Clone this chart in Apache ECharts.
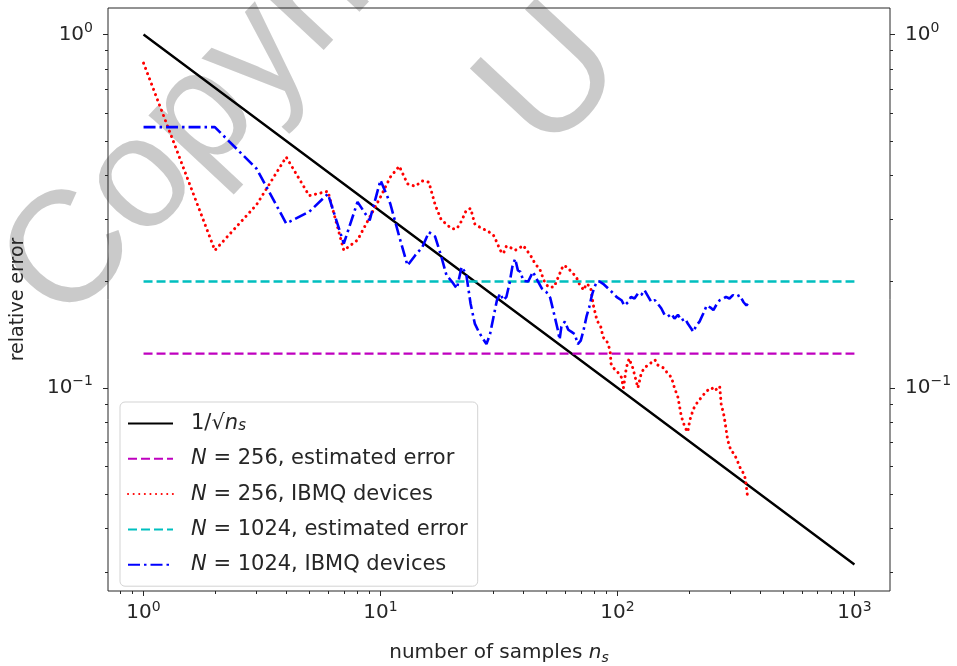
<!DOCTYPE html>
<html><head><meta charset="utf-8">
<script src="https://cdn.jsdelivr.net/npm/echarts@6/dist/echarts.min.js"></script>
<style>html,body{margin:0;padding:0;background:#fff}#c{width:957px;height:666px}</style>
</head><body><div id="c"></div>
<script>
// ---- data ----
const refN = [1, 10, 100, 1000];
const refErr = [1, 0.316, 0.1, 0.0316];
const estN = [1, 1000];
const est256 = [0.125, 0.125];
const est1024 = [0.2, 0.2];
const nRed = [1,2,3,4,5,6,7,8,9,10,11,12,13,14,15,16,17,18,19,20,21,22,23,24,25,26,27,28,29,30,31,32,33,34,35,36,37,38,39,40,42,43,45,47,49,51,54,57,59,61,64,67,69,72,74,77,79,82,85,87,90,93,94,96,100,104,106,109,112,116,122,126,130,137,144,148,156,161,169,174,180,186,193,198,202,209,215,226,238,250,257,270,274,282,292,301,311,321,331,342,347,353];
const errRed = [0.83,0.245,0.33,0.45,0.35,0.36,0.245,0.262,0.304,0.347,0.395,0.424,0.378,0.372,0.385,0.382,0.33,0.3,0.29,0.282,0.282,0.297,0.318,0.322,0.291,0.286,0.282,0.279,0.275,0.27,0.258,0.245,0.24,0.252,0.25,0.248,0.245,0.248,0.25,0.253,0.242,0.237,0.224,0.217,0.201,0.193,0.193,0.21,0.222,0.22,0.213,0.206,0.197,0.189,0.197,0.193,0.172,0.155,0.149,0.139,0.136,0.128,0.117,0.114,0.111,0.107,0.1,0.114,0.121,0.114,0.1,0.11,0.114,0.117,0.12,0.116,0.114,0.111,0.107,0.1,0.094,0.083,0.077,0.075,0.081,0.087,0.09,0.094,0.098,0.1,0.098,0.101,0.09,0.083,0.071,0.0665,0.065,0.062,0.059,0.057,0.055,0.05];
const nBlue = [1,2,3,4,5,6,7,8,9,10,11,12,13,14,15,16,17,18,19,20,21,22,23,24,25,26,27,28,29,30,31,32,33,34,35,36,37,38,39,40,42,44,46,48,50,52,54,56,57,58,60,62,64,66,68,70,72,74,76,78,80,82,84,87,90,93,96,99,104,107,111,114,118,122,126,130,135,139,144,148,153,158,163,169,174,180,186,193,198,205,209,215,222,230,238,246,254,263,270,280,287,297,307,317,328,340,350,355];
const errBlue = [0.547,0.547,0.417,0.292,0.315,0.354,0.256,0.336,0.298,0.387,0.332,0.268,0.222,0.237,0.25,0.276,0.268,0.237,0.208,0.2,0.191,0.22,0.21,0.173,0.152,0.144,0.138,0.133,0.142,0.159,0.177,0.185,0.177,0.181,0.197,0.22,0.232,0.215,0.213,0.201,0.2,0.213,0.201,0.191,0.187,0.18,0.162,0.146,0.137,0.149,0.154,0.146,0.144,0.142,0.133,0.136,0.146,0.159,0.169,0.183,0.193,0.2,0.2,0.197,0.193,0.189,0.185,0.181,0.177,0.171,0.175,0.181,0.179,0.185,0.183,0.189,0.181,0.175,0.177,0.173,0.168,0.161,0.159,0.162,0.157,0.161,0.155,0.157,0.152,0.147,0.144,0.15,0.154,0.162,0.171,0.169,0.166,0.173,0.177,0.179,0.181,0.179,0.183,0.181,0.183,0.175,0.171,0.173];
// tick values
const majorX = [1, 10, 100, 1000];
const minorX = [0.8,0.9,2,3,4,5,6,7,8,9,20,30,40,50,60,70,80,90,200,300,400,500,600,700,800,900];
const majorY = [0.1, 1];
const minorY = [0.03,0.04,0.05,0.06,0.07,0.08,0.09,0.2,0.3,0.4,0.5,0.6,0.7,0.8,0.9];
const xRange = [0.708, 1413];
const yRange = [0.0266, 1.189];

const FONT = 'DejaVu Sans';
const TXT = '#262626';
function pairs(xs, ys) { return xs.map((x, i) => [x, ys[i]]); }
function sup(v) {
  const e = Math.round(Math.log10(v));
  return '{b|10}{s|' + (e < 0 ? '\u2212' + (-e) : e) + '}';
}
const labelRich = {
  b: { fontSize: 20, fontFamily: FONT, color: TXT, lineHeight: 26 },
  s: { fontSize: 14, fontFamily: FONT, color: TXT, verticalAlign: 'top', lineHeight: 16 }
};
function xAx(vals, len, showLabel) {
  return {
    type: 'log', logBase: 10, min: xRange[0], max: xRange[1], position: 'bottom',
    axisLine: { show: false }, splitLine: { show: false }, minorTick: { show: false },
    axisTick: { show: true, customValues: vals, length: len, lineStyle: { color: TXT, width: 1 } },
    axisLabel: { show: showLabel, customValues: vals, formatter: sup, rich: labelRich, margin: 9 }
  };
}
function yAx(vals, len, showLabel, pos) {
  return {
    type: 'log', logBase: 10, min: yRange[0], max: yRange[1], position: pos,
    axisLine: { show: false }, splitLine: { show: false }, minorTick: { show: false },
    axisTick: { show: true, customValues: vals, length: len, lineStyle: { color: TXT, width: 1 } },
    axisLabel: { show: showLabel, customValues: vals, formatter: sup, rich: labelRich, margin: 15 }
  };
}
const legendText = {
  sqrt: '{sp|}{t|1/\u221A}{i|n}{sub|s}',
  e256: '{sp|}{i|N}{t| = 256, estimated error}',
  d256: '{sp|}{i|N}{t| = 256, IBMQ devices}',
  e1024: '{sp|}{i|N}{t| = 1024, estimated error}',
  d1024: '{sp|}{i|N}{t| = 1024, IBMQ devices}'
};
const xA0 = xAx(majorX, 5, true);
xA0.name = '{t|number of samples }{i|n}{sub|s}';
xA0.nameLocation = 'middle';
xA0.nameGap = 50;
xA0.nameTextStyle = { rich: {
  t: { fontSize: 20, fontFamily: FONT, color: TXT, lineHeight: 24 },
  i: { fontSize: 20, fontFamily: FONT, color: TXT, fontStyle: 'italic', lineHeight: 24 },
  sub: { fontSize: 14, fontFamily: FONT, color: TXT, fontStyle: 'italic', verticalAlign: 'bottom', lineHeight: 20 } } };
const yA0 = yAx(majorY, 5, true, 'left');
yA0.name = 'relative error';
yA0.nameLocation = 'middle';
yA0.nameGap = 80;
yA0.nameTextStyle = { fontSize: 19, fontFamily: FONT, color: TXT };

const WM = 'rgba(180,180,180,0.7)';
const chart = echarts.init(document.getElementById('c'), null, { renderer: 'canvas' });
chart.setOption({
  animation: false,
  backgroundColor: '#fff',
  grid: { left: 108, right: 67, top: 8, bottom: 75, show: true, borderColor: TXT, borderWidth: 1,
          backgroundColor: 'transparent', containLabel: false, outerBoundsMode: 'none' },
  xAxis: [xA0, xAx(minorX, 3, false)],
  yAxis: [yA0, yAx(minorY, 3, false, 'left'), yAx(majorY, 5, true, 'right'), yAx(minorY, 3, false, 'right')],
  legend: {
    orient: 'vertical', left: 120, top: 402, itemWidth: 45, itemHeight: 20, itemGap: 14.3,
    padding: [11, 10, 11, 7], backgroundColor: 'rgba(255,255,255,0.85)', borderColor: '#d3d3d3',
    borderWidth: 1, borderRadius: 5, selectedMode: false,
    itemStyle: { opacity: 0 },
    data: ['sqrt', 'e256', 'd256', 'e1024', 'd1024'],
    formatter: n => legendText[n],
    textStyle: { rich: {
      sp: { width: 13, lineHeight: 20 },
      t: { fontSize: 21, fontFamily: FONT, color: TXT, lineHeight: 20 },
      i: { fontSize: 21, fontFamily: FONT, color: TXT, fontStyle: 'italic', lineHeight: 20 },
      sub: { fontSize: 15, fontFamily: FONT, color: TXT, fontStyle: 'italic', verticalAlign: 'bottom', lineHeight: 16 } } }
  },
  graphic: [
    { type: 'text', x: -25, y: 244, rotation: 0.82, z: -10, silent: true,
      style: { text: 'Copyright', font: '158px "Liberation Sans"', fill: WM } },
    { type: 'text', x: 450, y: 68, rotation: 0.82, z: -10, silent: true,
      style: { text: 'U', font: '170px "Liberation Sans"', fill: WM } }
  ],
  series: [
    { name: 'sqrt', type: 'line', data: pairs(refN, refErr), symbol: 'none', silent: true,
      lineStyle: { color: '#000', width: 2.4 }, itemStyle: { color: '#000' } },
    { name: 'e256', type: 'line', data: pairs(estN, est256), symbol: 'none', silent: true,
      lineStyle: { color: '#bf00bf', width: 2.4, type: [9, 4] }, itemStyle: { color: '#bf00bf' } },
    { name: 'd256', type: 'line', data: pairs(nRed, errRed), symbol: 'none', silent: true,
      lineStyle: { color: '#ff0000', width: 3, type: [0.1, 5.5], cap: 'round' }, itemStyle: { color: '#ff0000' } },
    { name: 'e1024', type: 'line', data: pairs(estN, est1024), symbol: 'none', silent: true,
      lineStyle: { color: '#00bfbf', width: 2.4, type: [9, 4] }, itemStyle: { color: '#00bfbf' } },
    { name: 'd1024', type: 'line', data: pairs(nBlue, errBlue), symbol: 'none', silent: true,
      lineStyle: { color: '#0000ff', width: 2.6, type: [12, 4, 2.5, 4] }, itemStyle: { color: '#0000ff' } }
  ]
});
</script></body></html>
